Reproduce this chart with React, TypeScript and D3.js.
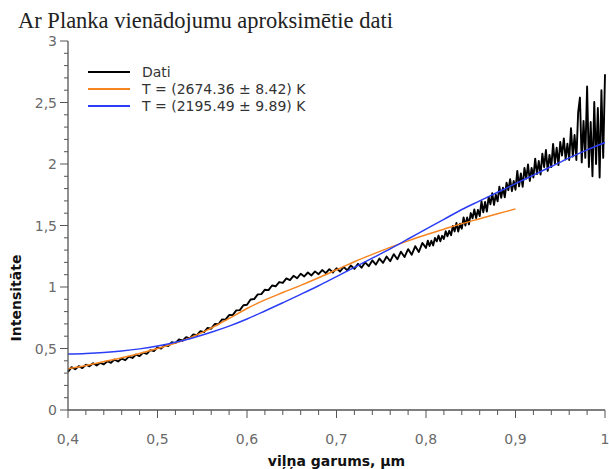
import React from "react";
import * as d3 from "d3";

const title = "Ar Planka vienādojumu aproksimētie dati";
const xLabel = "viļņa garums, μm";
const yLabel = "Intensitāte";
const legendLabels = ["Dati", "T = (2674.36 ± 8.42) K", "T = (2195.49 ± 9.89) K"];
const seriesColors = ["#000000", "#f7841e", "#2b3df5"];

const xTicks = [0.4, 0.5, 0.6, 0.7, 0.8, 0.9, 1.0];
const yTicks = [0, 0.5, 1, 1.5, 2, 2.5, 3];

// measured data, part 1: every 0.004 µm from 0.400 to 0.800
const dataStartA = 0.4;
const dataStepA = 0.004;
const dataValuesA = [
  0.31, 0.348, 0.332, 0.356, 0.341, 0.368, 0.355, 0.38, 0.362, 0.384,
  0.371, 0.397, 0.384, 0.41, 0.394, 0.418, 0.405, 0.434, 0.423, 0.451,
  0.438, 0.466, 0.456, 0.487, 0.48, 0.509, 0.499, 0.528, 0.519, 0.551,
  0.544, 0.573, 0.563, 0.592, 0.583, 0.615, 0.609, 0.641, 0.633, 0.667,
  0.661, 0.699, 0.697, 0.736, 0.735, 0.772, 0.771, 0.81, 0.812, 0.852,
  0.856, 0.898, 0.902, 0.94, 0.942, 0.978, 0.975, 1.012, 1.006, 1.04,
  1.033, 1.07, 1.056, 1.091, 1.071, 1.108, 1.086, 1.118, 1.094, 1.127,
  1.104, 1.138, 1.113, 1.145, 1.118, 1.152, 1.126, 1.164, 1.135, 1.175,
  1.147, 1.188, 1.157, 1.201, 1.169, 1.216, 1.182, 1.231, 1.196, 1.248,
  1.209, 1.267, 1.225, 1.287, 1.244, 1.308, 1.262, 1.332, 1.285, 1.358,
  1.318,
];
// measured data, part 2 (noisier, denser): every 0.002 µm from 0.802 to 1.000
const dataStartB = 0.802;
const dataStepB = 0.002;
const dataValuesB = [
  1.377, 1.333, 1.376, 1.338, 1.399, 1.371, 1.418, 1.372, 1.416, 1.391,
  1.454, 1.412, 1.457, 1.421, 1.496, 1.452, 1.521, 1.45, 1.514, 1.474,
  1.566, 1.5, 1.566, 1.509, 1.601, 1.559, 1.63, 1.56, 1.627, 1.577,
  1.697, 1.607, 1.691, 1.613, 1.733, 1.673, 1.763, 1.667, 1.751, 1.697,
  1.816, 1.725, 1.808, 1.729, 1.848, 1.787, 1.876, 1.779, 1.862, 1.791,
  1.944, 1.818, 1.924, 1.814, 1.968, 1.882, 1.996, 1.862, 1.968, 1.89,
  2.044, 1.918, 2.024, 1.914, 2.084, 1.974, 2.114, 1.944, 2.074, 1.975,
  2.164, 2.003, 2.132, 1.991, 2.18, 2.069, 2.208, 2.037, 2.166, 2.033,
  2.292, 2.061, 2.236, 2.033, 2.42, 2.54, 2.013, 2.35, 2.05, 2.63,
  1.976, 2.342, 1.9, 2.504, 2.0, 2.455, 1.89, 2.6, 2.05, 2.73,
];

const fitX = [
  0.4, 0.42, 0.44, 0.46, 0.48, 0.5, 0.52, 0.54, 0.56, 0.58, 0.6, 0.62, 0.64,
  0.66, 0.68, 0.7, 0.72, 0.74, 0.76, 0.78, 0.8, 0.82, 0.84, 0.86, 0.88, 0.9,
  0.92, 0.94, 0.96, 0.98, 1.0,
];
// T = 2674.36 K fit (drawn up to 0.9 µm)
const orangeValues = [
  0.335, 0.362, 0.393, 0.425, 0.46, 0.5, 0.545, 0.598, 0.665, 0.745, 0.825,
  0.895, 0.955, 1.013, 1.075, 1.14, 1.205, 1.265, 1.322, 1.375, 1.425, 1.47,
  1.515, 1.555, 1.595, 1.635,
];
// T = 2195.49 K fit
const blueValues = [
  0.455, 0.46, 0.468, 0.48, 0.497, 0.52, 0.55, 0.588, 0.632, 0.682, 0.74,
  0.805, 0.872, 0.94, 1.01, 1.085, 1.16, 1.235, 1.31, 1.39, 1.47, 1.55, 1.63,
  1.7, 1.77, 1.84, 1.91, 1.98, 2.05, 2.115, 2.175,
];

const W = 609;
const H = 469;
const margin = { left: 68, right: 4, top: 41, bottom: 59 };
const FONT = "'DejaVu Sans', sans-serif";

export default function App() {
  const x = d3.scaleLinear().domain([0.4, 1.0]).range([margin.left, W - margin.right]);
  const y = d3.scaleLinear().domain([0, 3]).range([H - margin.bottom, margin.top]);
  const fmt = (v: number) => (Number.isInteger(v) ? String(v) : String(v).replace(".", ","));

  const line = d3
    .line<[number, number]>()
    .x((d) => x(d[0]))
    .y((d) => y(d[1]));

  const dataPts: [number, number][] = [
    ...dataValuesA.map((v, i) => [dataStartA + i * dataStepA, v] as [number, number]),
    ...dataValuesB.map((v, i) => [dataStartB + i * dataStepB, v] as [number, number]),
  ];
  const orangePts: [number, number][] = orangeValues.map((v, i) => [fitX[i], v]);
  const bluePts: [number, number][] = blueValues.map((v, i) => [fitX[i], v]);
  const smooth = d3
    .line<[number, number]>()
    .x((d) => x(d[0]))
    .y((d) => y(d[1]))
    .curve(d3.curveMonotoneX);

  const xMinor = d3.range(0, 31).map((i) => 0.4 + i * 0.02);
  const yMinor = d3.range(0, 31).map((i) => i * 0.1);
  const x0 = margin.left;
  const yBase = H - margin.bottom;
  const axisColor = "#555";

  return (
    <svg
      width={W}
      height={H}
      style={{ position: "absolute", left: 0, top: 0, background: "#fff" }}
    >
      <text x={18} y={28} fontFamily="'Liberation Serif', serif" fontSize={22.5} fill="#222">
        {title}
      </text>

      {/* data */}
      <path d={line(dataPts) || ""} fill="none" stroke={seriesColors[0]} strokeWidth={1.9} strokeLinejoin="round" />
      <path d={smooth(orangePts) || ""} fill="none" stroke={seriesColors[1]} strokeWidth={1.5} />
      <path d={smooth(bluePts) || ""} fill="none" stroke={seriesColors[2]} strokeWidth={1.5} />

      {/* y axis */}
      <line x1={x0} x2={x0} y1={y(3)} y2={yBase} stroke={axisColor} strokeWidth={1.3} />
      {yMinor.map((v, i) => (
        <line key={"ym" + i} x1={x0 - (i % 5 === 0 ? 8 : 4)} x2={x0} y1={y(v)} y2={y(v)} stroke={axisColor} strokeWidth={1} />
      ))}
      {yTicks.map((v) => (
        <text key={"yt" + v} x={57} y={y(v) + 5} textAnchor="end" fontFamily={FONT} fontSize={14} fill="#6a6a6a">
          {fmt(v)}
        </text>
      ))}

      {/* x axis */}
      <line x1={x0} x2={x(1)} y1={yBase} y2={yBase} stroke={axisColor} strokeWidth={1.3} />
      {xMinor.map((v, i) => (
        <line key={"xm" + i} x1={x(v)} x2={x(v)} y1={yBase} y2={yBase + (i % 5 === 0 ? 8 : 5)} stroke={axisColor} strokeWidth={1} />
      ))}
      {xTicks.map((v) => (
        <text key={"xt" + v} x={x(v)} y={444} textAnchor="middle" fontFamily={FONT} fontSize={14} fill="#6a6a6a">
          {fmt(v)}
        </text>
      ))}

      <text x={(x0 + x(1)) / 2} y={466} textAnchor="middle" fontFamily={FONT} fontSize={14} fontWeight="bold" fill="#111">
        {xLabel}
      </text>
      <text
        transform={`translate(21, 298) rotate(-90)`}
        textAnchor="middle"
        fontFamily={FONT}
        fontSize={14}
        fontWeight="bold"
        fill="#111"
      >
        {yLabel}
      </text>

      {/* legend */}
      {legendLabels.map((lab, i) => (
        <g key={lab} transform={`translate(0, ${72 + i * 17})`}>
          <line x1={88} x2={130} y1={0} y2={0} stroke={seriesColors[i]} strokeWidth={1.8} />
          <text x={142} y={5} fontFamily={FONT} fontSize={14} fill="#333">
            {lab}
          </text>
        </g>
      ))}
    </svg>
  );
}
